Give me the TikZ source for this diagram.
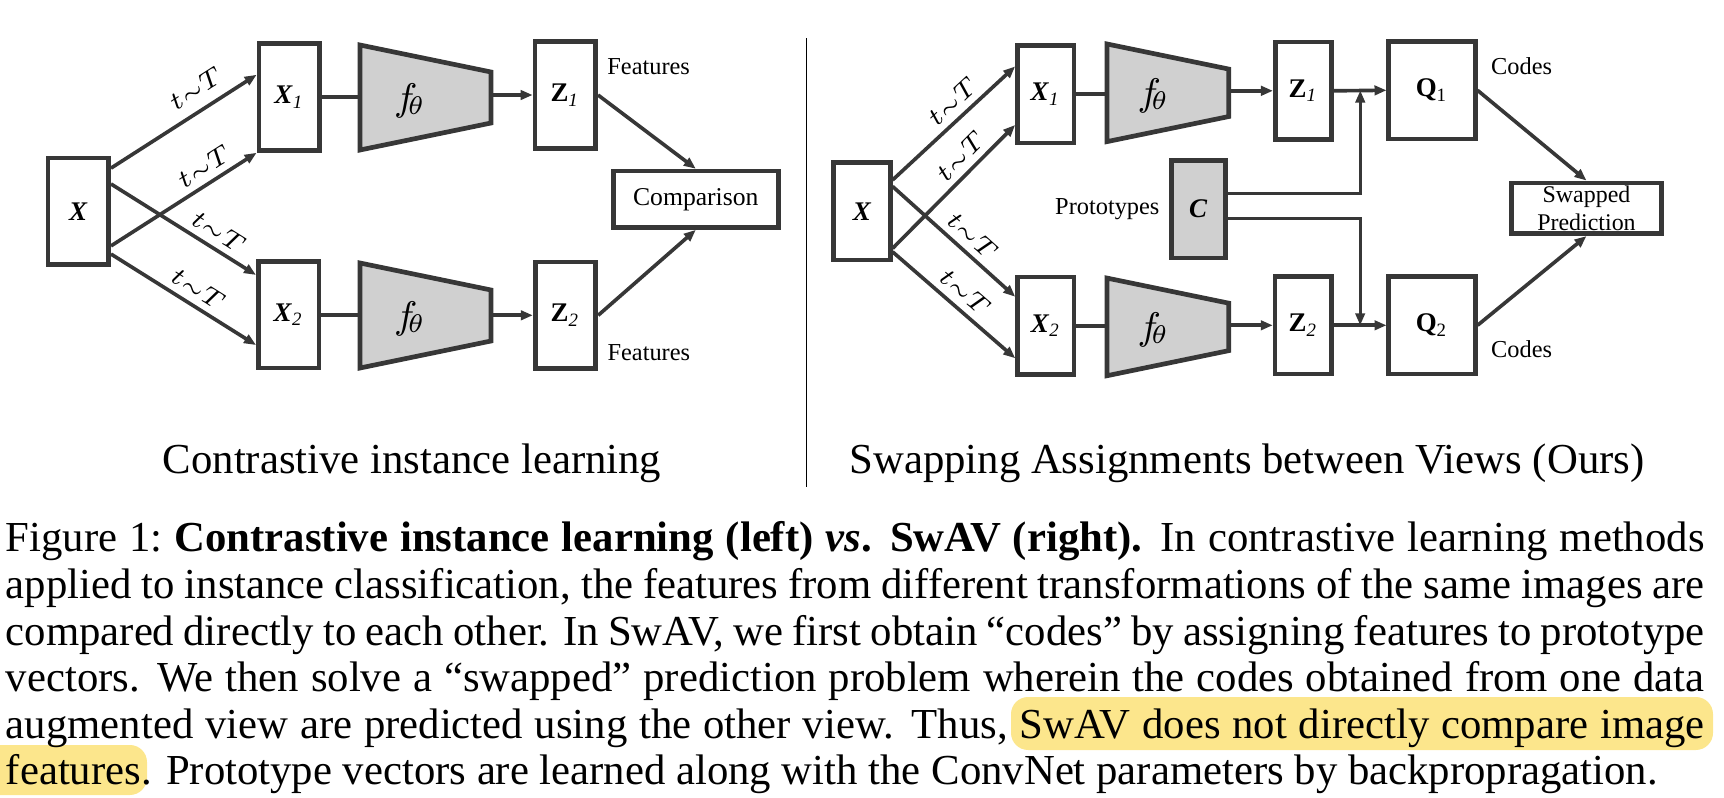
\RequirePackage{fix-cm}
\documentclass[tikz,border=0pt]{standalone}
\usepackage{fontspec}
\setmainfont{Liberation Serif}
\usetikzlibrary{arrows.meta, positioning, calc}

\definecolor{swline}{RGB}{55, 55, 55}
\definecolor{swgray}{RGB}{208, 208, 208}
\definecolor{swhigh}{RGB}{252, 230, 140}

\begin{document}
\begin{tikzpicture}[
    x=0.234pt, y=-0.234pt,
    blk/.style={draw=swline, line width=1.1pt, fill=white, inner sep=0pt,
                minimum width=14.2pt, minimum height=25pt,
                font=\fontsize{6.3}{7}\selectfont},
    rblk/.style={blk, minimum width=13.2pt, minimum height=22.8pt},
    lbl/.style={inner sep=0pt, font=\fontsize{5.7}{6.5}\selectfont},
    tlbl/.style={inner sep=1.5pt, font=\fontsize{6}{7}\selectfont, sloped, above},
    ln/.style={draw=swline, line width=0.85pt},
    arr/.style={ln, -{Triangle[length=2.8pt, width=2.2pt]}},
    thinarr/.style={arr, line width=0.65pt},
    ttl/.style={font=\fontsize{10}{12}\selectfont, inner sep=0pt, anchor=base},
    enc/.pic={
      \draw[draw=swline, fill=swgray, line width=1.1pt, line join=miter]
        (0,-52.5) -- (131,-25.5) -- (131,25.5) -- (0,52.5) -- cycle;
      \coordinate (-in) at (0,0);
      \coordinate (-out) at (131,0);
      \node[font=\fontsize{9}{10}\selectfont] (-f) at (50,3) {$f_{\!\theta}$};
    }
  ]
  \useasboundingbox (0,0) rectangle (1724,798);

  % contrastive instance learning
  \node[blk] (lx)  at (78.3, 211.3) {\textbf{\textit{X}}};
  \node[blk] (lx1) at (289.3, 97)   {\textbf{\textit{X}}\textsubscript{\textit{1}}};
  \node[blk] (lx2) at (288.7, 314.7) {\textbf{\textit{X}}\textsubscript{\textit{2}}};
  \pic (fl1) at (360, 97.5) {enc};
  \pic (fl2) at (360, 315.5) {enc};
  \node[blk] (lz1) at (565.3, 95)   {\textbf{Z}\textsubscript{\textit{1}}};
  \node[blk] (lz2) at (565.5, 315.3) {\textbf{Z}\textsubscript{\textit{2}}};
  \node[blk, minimum width=38.6pt, minimum height=13.2pt,
        font=\fontsize{6}{7}\selectfont] (cmp) at (695.8, 199.3) {Comparison};
  \node[lbl, anchor=west] (lf1) at ([xshift=2pt, yshift=-6.3pt]lz1.north east) {Features};
  \node[lbl, anchor=west] (lf2) at ([xshift=2pt, yshift=4.4pt]lz2.south east) {Features};

  \draw[arr] ([yshift=10.1pt]lx.east) -- ([yshift=5.2pt]lx1.west)
    node[tlbl, pos=0.66, inner sep=2.6pt] (lt1) {$t{\scriptstyle\sim}T$};
  \draw[arr] ([yshift=-8.1pt]lx.east) -- (lx1.south west)
    node[tlbl, pos=0.7] (lt2) {$t{\scriptstyle\sim}T$};
  \draw[arr] ([yshift=6.4pt]lx.east) -- ([yshift=9.3pt]lx2.west)
    node[tlbl, pos=0.68] (lt3) {$t{\scriptstyle\sim}T$};
  \draw[arr] ([yshift=-10pt]lx.east) -- ([yshift=-7.1pt]lx2.west)
    node[tlbl, pos=0.54] (lt4) {$t{\scriptstyle\sim}T$};
  \draw[ln] (lx1.east) -- (lx1.east -| fl1-in);
  \draw[ln] (lx2.east) -- (lx2.east -| fl2-in);
  \draw[arr] (fl1-out |- lz1.west) -- (lz1.west);
  \draw[arr] (fl2-out |- lz2.west) -- (lz2.west);
  \draw[arr] (lz1.east) -- (cmp.north);
  \draw[arr] (lz2.east) -- (cmp.south);

  \draw[line width=0.35pt] (806.7, 38) -- (806.7, 487);

  % swapping assignments between views
  \node[rblk] (rx)  at (862, 211.2)    {\textbf{\textit{X}}};
  \node[rblk] (rx1) at (1045.7, 94.2)  {\textbf{\textit{X}}\textsubscript{\textit{1}}};
  \node[rblk] (rx2) at (1045.8, 325.8) {\textbf{\textit{X}}\textsubscript{\textit{2}}};
  \pic[scale=0.93] (fr1) at (1107, 92.8) {enc};
  \pic[scale=0.93] (fr2) at (1107, 326.9) {enc};
  \node[rblk] (rz1) at (1303.5, 90.8)  {\textbf{Z}\textsubscript{\textit{1}}};
  \node[rblk] (rz2) at (1303.3, 325.3) {\textbf{Z}\textsubscript{\textit{2}}};
  \node[rblk, minimum width=20.2pt] (q1) at (1432, 90.3)  {\textbf{Q}\textsubscript{1}};
  \node[rblk, minimum width=20.2pt] (q2) at (1432, 325.3) {\textbf{Q}\textsubscript{2}};
  \node[rblk, fill=swgray, minimum width=12.7pt] (cb) at (1198.3, 209.2) {\textbf{\textit{C}}};
  \node[lbl, left=2pt of cb] (protolbl) {Prototypes};
  \node[blk, minimum width=35pt, minimum height=11.9pt, align=center,
        font=\fontsize{5.6}{6.4}\selectfont] (swp) at (1586.5, 208.3) {Swapped\\Prediction};
  \node[lbl, anchor=west] (rc1) at ([xshift=3pt, yshift=-6.2pt]q1.north east) {Codes};
  \node[lbl, anchor=west] (rc2) at ([xshift=3pt, yshift=6.4pt]q2.south east) {Codes};
  \coordinate (j1) at ($(rz1.east)!0.5!(q1.west)$);
  \coordinate (j2) at ($(rz2.east)!0.5!(q2.west)$);

  \draw[arr] ([yshift=7.3pt]rx.east) -- ([yshift=6.5pt]rx1.west)
    node[tlbl, pos=0.58] (rt1) {$t{\scriptstyle\sim}T$};
  \draw[arr] ([yshift=-8.7pt]rx.east) -- ([yshift=-7.2pt]rx1.west)
    node[tlbl, pos=0.65] (rt2) {$t{\scriptstyle\sim}T$};
  \draw[arr] ([yshift=5.8pt]rx.east) -- ([yshift=6.8pt]rx2.west)
    node[tlbl, pos=0.56] (rt3) {$t{\scriptstyle\sim}T$};
  \draw[arr] ([yshift=-9.5pt]rx.east) -- ([yshift=-7.6pt]rx2.west)
    node[tlbl, pos=0.5] (rt4) {$t{\scriptstyle\sim}T$};
  \draw[ln] (rx1.east) -- (rx1.east -| fr1-in);
  \draw[ln] (rx2.east) -- (rx2.east -| fr2-in);
  \draw[arr] (fr1-out |- rz1.west) -- (rz1.west);
  \draw[arr] (fr2-out |- rz2.west) -- (rz2.west);
  \draw[arr] (rz1.east) -- (q1.west);
  \draw[arr] (rz2.east) -- (q2.west);
  \draw[thinarr] ([yshift=3.6pt]cb.east) -| (j1);
  \draw[thinarr] ([yshift=-2.2pt]cb.east) -| (j2);
  \draw[arr] (q1.east) -- (swp.north);
  \draw[arr] (q2.east) -- (swp.south);

  \node[ttl] (ltitle) at (412, 473) {Contrastive instance learning};
  \node[ttl] (rtitle) at (1247, 473) {Swapping Assignments between Views (Ours)};

  % caption
  \fill[swhigh, rounded corners=4pt] (1011, 697) rectangle (1713, 750);
  \fill[swhigh, rounded corners=4pt] (-20, 745) rectangle (147, 795);
  \node[anchor=north west, inner sep=0pt, text width=397.5pt, align=justify,
        font=\fontsize{10}{10.9}\selectfont] (cap) at (5, 521) {\noindent
    Figure~1:\ \textbf{Contrastive instance learning (left) \textit{vs}. SwAV (right).} In contrastive learning methods\linebreak
    applied to instance classification, the features from different transformations of the same images are\linebreak
    compared directly to each other. In SwAV, we first obtain “codes” by assigning features to prototype\linebreak
    vectors. We then solve a “swapped” prediction problem wherein the codes obtained from one data\linebreak
    augmented view are predicted using the other view. Thus, SwAV does not directly compare image\linebreak
    features. Prototype vectors are learned along with the ConvNet parameters by backpropragation.};
\end{tikzpicture}
\end{document}
